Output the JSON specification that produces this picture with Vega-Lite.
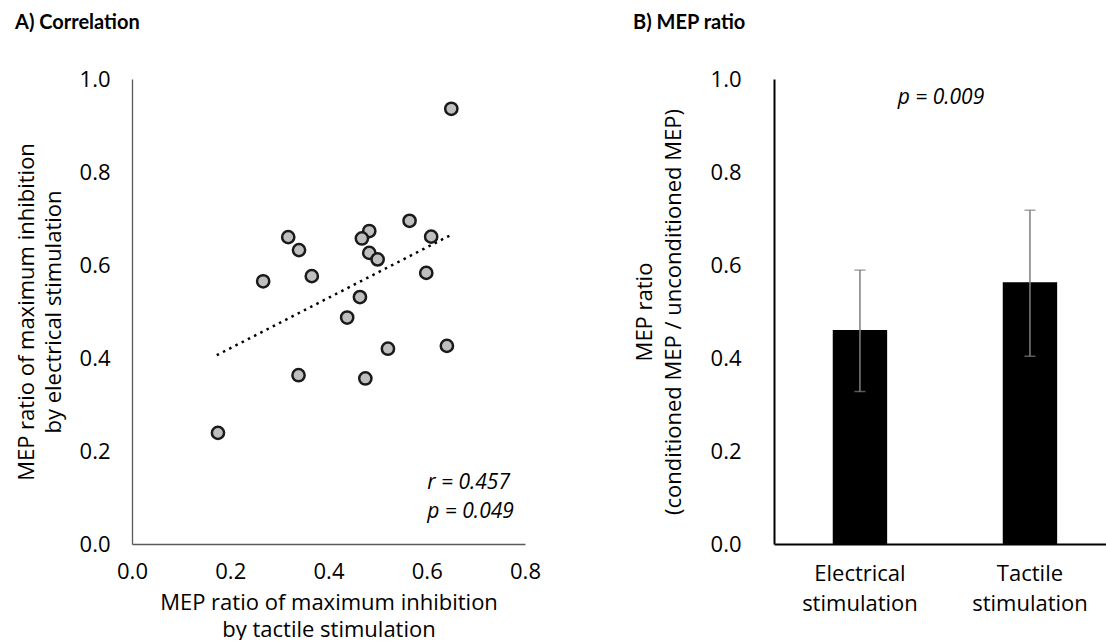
{
  "$schema": "https://vega.github.io/schema/vega-lite/v6.json",
  "padding": {"left": 15, "top": 13, "right": 0, "bottom": 0},
  "background": "white",
  "spacing": 92,
  "config": {
    "font": "Open Sans",
    "view": {"stroke": null},
    "axis": {"grid": false, "ticks": false, "labelFont": "Open Sans", "labelFontSize": 22, "labelColor": "#000", "titleFont": "Open Sans", "titleFontSize": 22, "titleFontWeight": "normal", "titleColor": "#000"},
    "title": {"font": "Lato", "fontSize": 20, "fontWeight": "bold", "anchor": "start", "frame": "bounds", "color": "#000"}
  },
  "datasets": {
    "points": [
      {"tactile": 0.650, "electrical": 0.936},
      {"tactile": 0.565, "electrical": 0.695},
      {"tactile": 0.483, "electrical": 0.673},
      {"tactile": 0.468, "electrical": 0.657},
      {"tactile": 0.318, "electrical": 0.660},
      {"tactile": 0.609, "electrical": 0.661},
      {"tactile": 0.340, "electrical": 0.632},
      {"tactile": 0.483, "electrical": 0.626},
      {"tactile": 0.500, "electrical": 0.612},
      {"tactile": 0.599, "electrical": 0.583},
      {"tactile": 0.366, "electrical": 0.576},
      {"tactile": 0.267, "electrical": 0.565},
      {"tactile": 0.464, "electrical": 0.531},
      {"tactile": 0.438, "electrical": 0.487},
      {"tactile": 0.521, "electrical": 0.420},
      {"tactile": 0.641, "electrical": 0.426},
      {"tactile": 0.339, "electrical": 0.363},
      {"tactile": 0.475, "electrical": 0.356},
      {"tactile": 0.175, "electrical": 0.239}
    ],
    "trend": [
      {"tactile": 0.1725, "electrical": 0.406},
      {"tactile": 0.650, "electrical": 0.665}
    ],
    "bars": [
      {"condition": "Electrical stimulation", "mean": 0.460, "low": 0.328, "high": 0.589},
      {"condition": "Tactile stimulation", "mean": 0.563, "low": 0.404, "high": 0.718}
    ]
  },
  "hconcat": [
    {
      "title": {"text": "A) Correlation", "offset": 35},
      "width": 393,
      "height": 465,
      "layer": [
        {
          "data": {"name": "trend"},
          "mark": {"type": "line", "color": "#000", "strokeWidth": 2.5, "strokeDash": [2.5, 4.5]},
          "encoding": {
            "x": {"field": "tactile", "type": "quantitative", "scale": {"domain": [0, 0.8], "nice": false},
              "axis": {"title": ["MEP ratio of maximum inhibition", "by tactile stimulation"], "values": [0, 0.2, 0.4, 0.6, 0.8], "format": ".1f", "labelFlush": false, "labelOverlap": false, "labelPadding": 17, "titlePadding": 10, "titleLineHeight": 27, "domainColor": "#595959", "domainWidth": 1.3}},
            "y": {"field": "electrical", "type": "quantitative", "scale": {"domain": [0, 1], "nice": false},
              "axis": {"title": ["MEP ratio of maximum inhibition", "by electrical stimulation"], "values": [0, 0.2, 0.4, 0.6, 0.8, 1.0], "format": ".1f", "labelFlush": false, "labelOverlap": false, "labelPadding": 22, "titlePadding": 14, "titleLineHeight": 27, "domainColor": "#595959", "domainWidth": 1.3}}
          }
        },
        {
          "data": {"name": "points"},
          "mark": {"type": "circle", "size": 150, "filled": true, "fill": "#bfbfbf", "fillOpacity": 1, "stroke": "#1a1a1a", "strokeWidth": 2.5, "opacity": 1},
          "encoding": {
            "x": {"field": "tactile", "type": "quantitative"},
            "y": {"field": "electrical", "type": "quantitative"}
          }
        },
        {
          "data": {"values": [{}]},
          "mark": {"type": "text", "fontStyle": "italic", "fontSize": 21, "align": "left", "baseline": "middle", "lineHeight": 29, "color": "#000"},
          "encoding": {
            "x": {"datum": 0.601, "type": "quantitative"},
            "y": {"datum": 0.131, "type": "quantitative"},
            "text": {"value": ["r = 0.457", "p = 0.049"]}
          }
        }
      ]
    },
    {
      "title": {"text": "B) MEP ratio", "offset": 35},
      "width": 333,
      "height": 465,
      "data": {"name": "bars"},
      "layer": [
        {
          "mark": {"type": "bar", "color": "#000"},
          "encoding": {
            "x": {"field": "condition", "type": "nominal", "sort": null,
              "scale": {"type": "band", "paddingInner": 0.68, "paddingOuter": 0.3194, "align": 0.541},
              "axis": {"title": null, "labelExpr": "split(datum.label, ' ')", "labelAngle": 0, "labelPadding": 19, "labelLineHeight": 30, "domainColor": "#000", "domainWidth": 2}},
            "y": {"field": "mean", "type": "quantitative", "scale": {"domain": [0, 1], "nice": false},
              "axis": {"title": ["MEP ratio", "(conditioned MEP / unconditioned MEP)"], "values": [0, 0.2, 0.4, 0.6, 0.8, 1.0], "format": ".1f", "labelFlush": false, "labelOverlap": false, "labelPadding": 33, "titlePadding": 25, "titleLineHeight": 29, "domainColor": "#000", "domainWidth": 2}}
          }
        },
        {
          "mark": {"type": "rule", "color": "#7f7f7f", "strokeWidth": 1.5},
          "encoding": {
            "x": {"field": "condition", "type": "nominal", "sort": null},
            "y": {"field": "low", "type": "quantitative"},
            "y2": {"field": "high"}
          }
        },
        {
          "mark": {"type": "tick", "color": "#7f7f7f", "size": 11, "thickness": 1.5, "orient": "horizontal"},
          "encoding": {
            "x": {"field": "condition", "type": "nominal", "sort": null},
            "y": {"field": "low", "type": "quantitative"}
          }
        },
        {
          "mark": {"type": "tick", "color": "#7f7f7f", "size": 11, "thickness": 1.5, "orient": "horizontal"},
          "encoding": {
            "x": {"field": "condition", "type": "nominal", "sort": null},
            "y": {"field": "high", "type": "quantitative"}
          }
        },
        {
          "data": {"values": [{}]},
          "mark": {"type": "text", "fontStyle": "italic", "fontSize": 21, "dx": 81, "color": "#000"},
          "encoding": {
            "x": {"datum": "Electrical stimulation", "type": "nominal"},
            "y": {"datum": 0.96, "type": "quantitative"},
            "text": {"value": "p = 0.009"}
          }
        }
      ]
    }
  ]
}
